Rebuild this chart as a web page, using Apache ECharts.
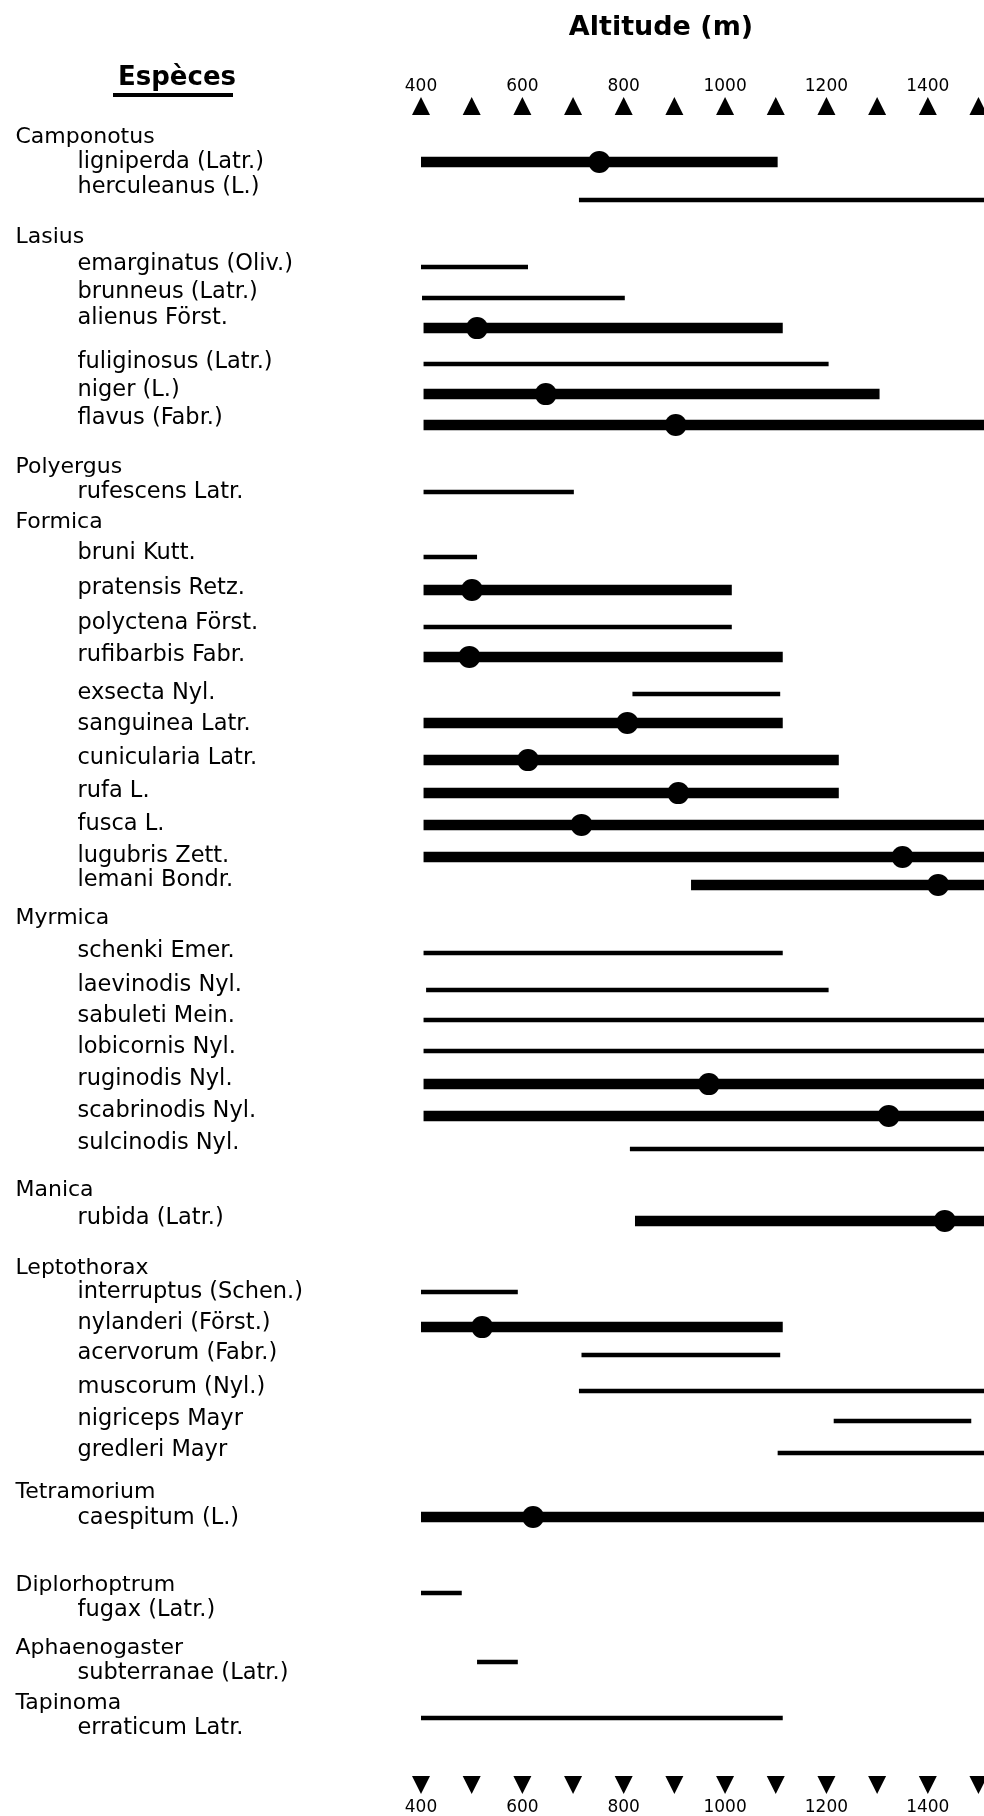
<!DOCTYPE html>
<html>
<head>
<meta charset="utf-8">
<script src="https://cdn.jsdelivr.net/npm/echarts@6/dist/echarts.min.js"></script>
<style>html,body{margin:0;padding:0;background:#fff;}#c{width:984px;height:1816px;}</style>
</head>
<body>
<div id="c"></div>
<script>
// ---- Data ----
// Text lines of the species column: genus names ('g') and species ('s')
const rowText = ['Camponotus','ligniperda (Latr.)','herculeanus (L.)',
  'Lasius','emarginatus (Oliv.)','brunneus (Latr.)','alienus Först.','fuliginosus (Latr.)','niger (L.)','flavus (Fabr.)',
  'Polyergus','rufescens Latr.',
  'Formica','bruni Kutt.','pratensis Retz.','polyctena Först.','rufibarbis Fabr.','exsecta Nyl.','sanguinea Latr.',
  'cunicularia Latr.','rufa L.','fusca L.','lugubris Zett.','lemani Bondr.',
  'Myrmica','schenki Emer.','laevinodis Nyl.','sabuleti Mein.','lobicornis Nyl.','ruginodis Nyl.','scabrinodis Nyl.','sulcinodis Nyl.',
  'Manica','rubida (Latr.)',
  'Leptothorax','interruptus (Schen.)','nylanderi (Först.)','acervorum (Fabr.)','muscorum (Nyl.)','nigriceps Mayr','gredleri Mayr',
  'Tetramorium','caespitum (L.)',
  'Diplorhoptrum','fugax (Latr.)',
  'Aphaenogaster','subterranae (Latr.)',
  'Tapinoma','erraticum Latr.'];
const rowKind = ['g','s','s', 'g','s','s','s','s','s','s', 'g','s', 'g','s','s','s','s','s','s','s','s','s','s','s',
  'g','s','s','s','s','s','s','s', 'g','s', 'g','s','s','s','s','s','s', 'g','s', 'g','s', 'g','s', 'g','s'];
// line position of each text line in the column (line units, top = 0)
const rowLine = [0,0.83,1.67, 3.33,4.23,5.17,6.03,7.5,8.43,9.37, 11,11.83,
  12.83,13.87,15.03,16.2,17.27,18.53,19.57,20.7,21.8,22.9,23.97,24.77,
  26.03,27.13,28.27,29.3,30.33,31.4,32.47,33.53, 35.1,36.03,
  37.7,38.5,39.53,40.53,41.67,42.73,43.77, 45.17,46.03, 48.27,49.1, 50.37,51.2, 52.2,53.03];

// Altitude ranges (m) per species; ranges reaching the right border are cut there in the picture
const barSpecies = ['ligniperda (Latr.)','herculeanus (L.)','emarginatus (Oliv.)','brunneus (Latr.)','alienus Först.',
  'fuliginosus (Latr.)','niger (L.)','flavus (Fabr.)','rufescens Latr.','bruni Kutt.','pratensis Retz.',
  'polyctena Först.','rufibarbis Fabr.','exsecta Nyl.','sanguinea Latr.','cunicularia Latr.','rufa L.',
  'fusca L.','lugubris Zett.','lemani Bondr.','schenki Emer.','laevinodis Nyl.','sabuleti Mein.',
  'lobicornis Nyl.','ruginodis Nyl.','scabrinodis Nyl.','sulcinodis Nyl.','rubida (Latr.)',
  'interruptus (Schen.)','nylanderi (Först.)','acervorum (Fabr.)','muscorum (Nyl.)','nigriceps Mayr',
  'gredleri Mayr','caespitum (L.)','fugax (Latr.)','subterranae (Latr.)','erraticum Latr.'];
const barFrom = [400,710,400,402,405, 405,405,405,405,405,405, 405,405,815,405,405,405, 405,405,930,405,410,405,
  405,405,405,810,820, 400,400,715,710,1210, 1100,400,400,510,400];
const barTo   = [1100,1520,610,800,1110, 1200,1300,1520,700,510,1010, 1010,1110,1105,1110,1220,1220, 1520,1520,1520,1110,1200,1520,
  1520,1520,1520,1520,1520, 590,1110,1105,1520,1480, 1520,1520,480,590,1110];
const barDot  = [750,null,null,null,510, null,645,900,null,null,500, null,495,null,805,610,905, 715,1345,1415,null,null,null,
  null,965,1318,null,1428, null,520,null,null,null, null,620,null,null,null];
const barThick = [1,0,0,0,1, 0,1,1,0,0,1, 0,1,0,1,1,1, 1,1,1,0,0,0, 0,1,1,0,1, 0,1,0,0,0, 0,1,0,0,0];
// line position of each range bar (same line units as rowLine)
const barLine = [0.83,2.1,4.33,5.37,6.37, 7.57,8.57,9.6,11.83,14,15.1, 16.33,17.33,18.57,19.53,20.77,21.87,
  22.93,24,24.93,27.2,28.43,29.43, 30.47,31.57,32.63,33.73,36.13, 38.5,39.67,40.6,41.8,42.8, 43.87,46.0,48.53,50.83,52.7];

const ticks = [400,500,600,700,800,900,1000,1100,1200,1300,1400,1500];
const tickLabels = [400,600,800,1000,1200,1400];

// ---- Build ----
const barData = barSpecies.map((s,i) => [barFrom[i], barTo[i], barLine[i], barThick[i]]);
const dotData = [];
barSpecies.forEach((s,i) => { if (barDot[i] != null) dotData.push([barDot[i], barLine[i]]); });
const labelData = rowText.map((t,i) => ({value:[0, rowLine[i]], name:t, kind:rowKind[i]}));

const FONT = 'DejaVu Sans';
const XMIN = 400, XMAX = 1505, YMIN = -0.5, YMAX = 53.6;
const chart = echarts.init(document.getElementById('c'), null, {renderer:'canvas'});

chart.setOption({
  animation: false,
  backgroundColor: '#fff',
  title: [
    {text:'Altitude (m)', left:656, top:9, textAlign:'center',
     textStyle:{fontFamily:FONT, fontWeight:'bold', fontSize:27, color:'#000'}},
    {text:'Espèces', left:172, top:60, textAlign:'center',
     textStyle:{fontFamily:FONT, fontWeight:'bold', fontSize:26, color:'#000'}}
  ],
  graphic: [{type:'rect', shape:{x:113, y:93, width:120, height:4}, style:{fill:'#000'}}],
  grid: [
    {left:421, right:0, top:122, bottom:71},
    {left:421, right:0, top:96, height:20},
    {left:421, right:0, top:1775, height:20},
    {left:0, width:421, top:122, bottom:71}
  ],
  xAxis: [
    {gridIndex:0, type:'value', min:XMIN, max:XMAX, interval:100, show:false},
    {gridIndex:1, type:'value', min:XMIN, max:XMAX, interval:100, position:'top',
     axisLine:{show:false}, axisTick:{show:false}, splitLine:{show:false},
     axisLabel:{margin:1, fontSize:17, color:'#000', fontFamily:FONT,
       formatter: v => tickLabels.indexOf(v) >= 0 ? String(v) : ''}},
    {gridIndex:2, type:'value', min:XMIN, max:XMAX, interval:100, position:'bottom',
     axisLine:{show:false}, axisTick:{show:false}, splitLine:{show:false},
     axisLabel:{margin:4, fontSize:17, color:'#000', fontFamily:FONT,
       formatter: v => tickLabels.indexOf(v) >= 0 ? String(v) : ''}},
    {gridIndex:3, type:'value', min:0, max:1, show:false}
  ],
  yAxis: [
    {gridIndex:0, type:'value', min:YMIN, max:YMAX, inverse:true, show:false},
    {gridIndex:1, type:'value', min:-1, max:1, show:false},
    {gridIndex:2, type:'value', min:-1, max:1, show:false},
    {gridIndex:3, type:'value', min:YMIN, max:YMAX, inverse:true, show:false}
  ],
  series: [
    {type:'custom', xAxisIndex:0, yAxisIndex:0, clip:true, data:barData,
     encode:{x:[0,1], y:2},
     renderItem: (params, api) => {
       const a = api.coord([api.value(0), api.value(2)]);
       const b = api.coord([Math.min(api.value(1), XMAX + 10), api.value(2)]);
       const w = api.value(3) ? 10.5 : 4.5;
       return {type:'line', shape:{x1:a[0], y1:a[1], x2:b[0], y2:b[1]},
               style:{stroke:'#000', lineWidth:w, lineCap:'butt'}};
     }},
    {type:'scatter', xAxisIndex:0, yAxisIndex:0, data:dotData, symbol:'circle', symbolSize:22,
     itemStyle:{color:'#000', opacity:1}, z:5},
    {type:'scatter', xAxisIndex:1, yAxisIndex:1, data:ticks.map(t => [t, 0]), symbol:'triangle',
     symbolSize:[18,18], itemStyle:{color:'#000', opacity:1}, clip:false},
    {type:'scatter', xAxisIndex:2, yAxisIndex:2, data:ticks.map(t => [t, 0]), symbol:'triangle',
     symbolRotate:180, symbolSize:[18,18], itemStyle:{color:'#000', opacity:1}, clip:false},
    {type:'scatter', xAxisIndex:3, yAxisIndex:3, data:labelData, symbol:'circle', symbolSize:1, clip:false,
     itemStyle:{color:'rgba(255,255,255,0)', opacity:1},
     label:{show:true, position:'right', distance:15, color:'#000',
       formatter: p => (p.data.kind === 'g' ? '{g|' : '{s|') + p.name + '}',
       rich:{
         g:{fontFamily:FONT, fontSize:22, color:'#000'},
         s:{fontFamily:FONT, fontSize:22.5, color:'#000', padding:[0,0,0,62]}
       }},
     labelLayout:{hideOverlap:false},
     emphasis:{disabled:true}}
  ]
});
</script>
</body>
</html>
